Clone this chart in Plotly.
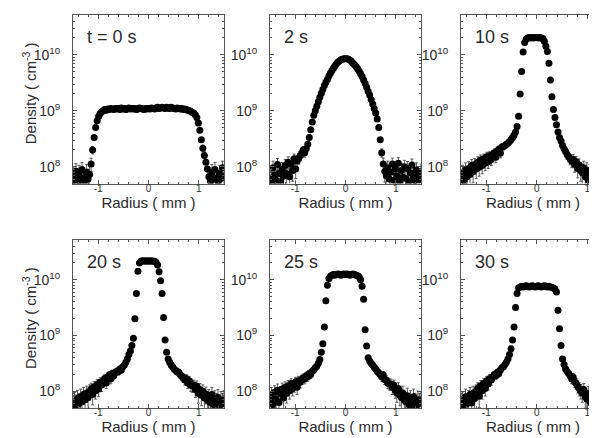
import plotly.graph_objects as go

# ---------------- data ----------------
radius_mm = [
    -1.50, -1.47, -1.44, -1.41, -1.38, -1.35, -1.32, -1.29, -1.26, -1.23,
    -1.20, -1.17, -1.14, -1.11, -1.08, -1.05, -1.02, -0.99, -0.96, -0.93,
    -0.90, -0.87, -0.84, -0.81, -0.78, -0.75, -0.72, -0.69, -0.66, -0.63,
    -0.60, -0.57, -0.54, -0.51, -0.48, -0.45, -0.42, -0.39, -0.36, -0.33,
    -0.30, -0.27, -0.24, -0.21, -0.18, -0.15, -0.12, -0.09, -0.06, -0.03,
    0.00, 0.03, 0.06, 0.09, 0.12, 0.15, 0.18, 0.21, 0.24, 0.27,
    0.30, 0.33, 0.36, 0.39, 0.42, 0.45, 0.48, 0.51, 0.54, 0.57,
    0.60, 0.63, 0.66, 0.69, 0.72, 0.75, 0.78, 0.81, 0.84, 0.87,
    0.90, 0.93, 0.96, 0.99, 1.02, 1.05, 1.08, 1.11, 1.14, 1.17,
    1.20, 1.23, 1.26, 1.29, 1.32, 1.35, 1.38, 1.41, 1.44, 1.47, 1.50,
]

# log10 of density (cm^-3)
log10_density_0s = [
    7.82, 7.74, 7.92, 7.79, 7.88, 7.73, 7.95, 7.80, 7.76, 7.90,
    7.78, 7.86, 8.05, 8.30, 8.52, 8.70, 8.82, 8.90, 8.95, 8.98,
    9.00, 9.02, 9.01, 9.03, 9.02, 9.04, 9.03, 9.02, 9.04, 9.03,
    9.04, 9.02, 9.05, 9.03, 9.04, 9.02, 9.03, 9.05, 9.03, 9.04,
    9.03, 9.04, 9.02, 9.03, 9.05, 9.04, 9.03, 9.02, 9.04, 9.03,
    9.04, 9.03, 9.05, 9.04, 9.03, 9.05, 9.06, 9.04, 9.05, 9.06,
    9.05, 9.04, 9.06, 9.05, 9.04, 9.06, 9.05, 9.04, 9.03, 9.05,
    9.04, 9.03, 9.04, 9.02, 9.03, 9.02, 9.01, 9.00, 8.99, 8.97,
    8.96, 8.93, 8.88, 8.78, 8.65, 8.48, 8.33, 8.20, 8.08, 7.96,
    7.82, 7.74, 7.90, 7.78, 7.95, 7.80, 7.73, 7.88, 7.79, 7.98, 7.83,
]
log10_density_2s = [
    7.80, 7.72, 7.98, 7.85, 7.76, 8.04, 7.88, 7.73, 7.95, 7.83,
    8.02, 7.88, 8.08, 7.82, 8.05, 7.93, 8.14, 7.96, 8.10, 8.15,
    8.20, 8.24, 8.30, 8.25, 8.32, 8.40, 8.52, 8.66, 8.80, 8.92,
    9.00, 9.08, 9.16, 9.24, 9.31, 9.38, 9.45, 9.51, 9.56, 9.62,
    9.67, 9.72, 9.76, 9.80, 9.84, 9.87, 9.89, 9.91, 9.92, 9.93,
    9.93, 9.93, 9.92, 9.90, 9.88, 9.85, 9.82, 9.79, 9.75, 9.71,
    9.66, 9.61, 9.55, 9.49, 9.42, 9.35, 9.28, 9.20, 9.12, 9.04,
    8.96, 8.85, 8.70, 8.48, 8.25, 8.05, 7.92, 7.84, 7.98, 7.78,
    7.90, 8.05, 7.76, 7.96, 7.84, 8.06, 7.74, 7.93, 7.81, 8.00,
    7.79, 7.97, 7.73, 7.89, 8.03, 7.82, 7.75, 7.94, 7.85, 7.77, 7.91,
]
log10_density_10s = [
    7.78, 7.88, 7.74, 7.94, 7.82, 7.97, 7.86, 8.02, 7.91, 8.04,
    7.96, 8.08, 7.99, 8.12, 8.02, 8.14, 8.06, 8.18, 8.09, 8.20,
    8.13, 8.22, 8.25, 8.17, 8.28, 8.31, 8.24, 8.35, 8.36, 8.38,
    8.40, 8.42, 8.45, 8.48, 8.52, 8.56, 8.62, 8.72, 8.90, 9.30,
    9.70, 10.05, 10.22, 10.28, 10.30, 10.31, 10.30, 10.31, 10.30, 10.31,
    10.31, 10.30, 10.31, 10.30, 10.29, 10.24, 10.15, 10.06, 9.85, 9.55,
    9.25, 9.02, 8.88, 8.75, 8.62, 8.52, 8.46, 8.38, 8.32, 8.27,
    8.22, 8.18, 8.14, 8.10, 8.13, 8.04, 8.09, 7.97, 8.03, 7.93,
    7.89, 7.98, 7.82, 7.94, 7.76, 7.90, 7.80, 7.97, 7.74, 7.87,
    7.79, 7.92, 7.73, 7.85, 7.94, 7.77, 7.88, 7.74, 7.90, 7.79, 7.83,
]
log10_density_20s = [
    7.73, 7.81, 7.75, 7.87, 7.78, 7.90, 7.82, 7.94, 7.85, 7.97,
    7.89, 8.00, 8.04, 7.94, 8.08, 8.01, 8.12, 8.04, 8.16, 8.11,
    8.19, 8.23, 8.15, 8.26, 8.29, 8.22, 8.32, 8.28, 8.34, 8.36,
    8.35, 8.40, 8.38, 8.44, 8.47, 8.52, 8.58, 8.66, 8.72, 8.82,
    8.95, 9.30, 9.75, 10.15, 10.30, 10.33, 10.34, 10.33, 10.34, 10.33,
    10.34, 10.33, 10.34, 10.33, 10.33, 10.31, 10.26, 10.14, 9.98, 9.75,
    9.32, 8.92, 8.70, 8.58, 8.52, 8.47, 8.44, 8.40, 8.37, 8.35,
    8.34, 8.30, 8.27, 8.24, 8.20, 8.23, 8.15, 8.19, 8.11, 8.10,
    8.11, 8.03, 8.09, 7.96, 8.03, 7.93, 8.00, 7.88, 7.95, 7.84,
    7.89, 7.80, 7.94, 7.76, 7.86, 7.79, 7.89, 7.74, 7.84, 7.78, 7.86,
]
log10_density_25s = [
    7.84, 7.94, 7.76, 7.98, 7.86, 8.02, 7.80, 7.96, 8.04, 7.88,
    8.07, 7.96, 8.10, 8.01, 8.14, 8.05, 8.10, 8.17, 8.07, 8.19,
    8.16, 8.21, 8.24, 8.22, 8.28, 8.26, 8.32, 8.30, 8.36, 8.38,
    8.42, 8.45, 8.50, 8.57, 8.70, 8.85, 9.15, 9.62, 9.90, 10.02,
    10.06, 10.08, 10.09, 10.08, 10.09, 10.10, 10.09, 10.08, 10.09, 10.10,
    10.09, 10.10, 10.09, 10.08, 10.09, 10.10, 10.09, 10.08, 10.07, 10.05,
    10.00, 9.88, 9.65, 9.10, 8.81, 8.60, 8.54, 8.50, 8.47, 8.43,
    8.40, 8.36, 8.33, 8.30, 8.26, 8.29, 8.21, 8.20, 8.15, 8.13,
    8.13, 8.07, 8.11, 8.02, 7.97, 8.05, 7.93, 7.89, 7.97, 7.84,
    7.81, 7.92, 7.76, 7.86, 7.74, 7.90, 7.79, 7.75, 7.85, 7.78, 7.83,
]
log10_density_30s = [
    7.75, 7.83, 7.73, 7.90, 7.78, 7.86, 7.94, 7.79, 7.97, 7.87,
    8.00, 8.05, 7.91, 8.10, 8.01, 8.14, 8.05, 8.19, 8.13, 8.23,
    8.20, 8.26, 8.30, 8.28, 8.34, 8.32, 8.38, 8.42, 8.44, 8.48,
    8.52, 8.58, 8.66, 8.76, 8.92, 9.15, 9.50, 9.75, 9.85, 9.87,
    9.88, 9.87, 9.88, 9.89, 9.88, 9.87, 9.88, 9.89, 9.88, 9.87,
    9.88, 9.89, 9.88, 9.87, 9.88, 9.89, 9.88, 9.87, 9.88, 9.87,
    9.86, 9.85, 9.83, 9.78, 9.45, 9.12, 8.82, 8.58, 8.48, 8.40,
    8.36, 8.32, 8.28, 8.22, 8.25, 8.17, 8.14, 8.09, 8.05, 8.01,
    7.97, 8.03, 7.90, 7.86, 7.96, 7.82, 7.78, 7.87, 7.74, 7.82,
    7.77, 7.86, 7.73, 7.80, 7.90, 7.75, 7.84, 7.74, 7.81, 7.77, 7.87,
]

panel_labels = ["t = 0 s", "2 s", "10 s", "20 s", "25 s", "30 s"]
panel_series = [log10_density_0s, log10_density_2s, log10_density_10s,
                log10_density_20s, log10_density_25s, log10_density_30s]
density_error = 3e7  # cm^-3, measurement uncertainty

y_tick_values = [1e8, 1e9, 1e10]
y_tick_labels = ["10<sup>8</sup>", "10<sup>9</sup>", "10<sup>10</sup>"]
x_tick_values = [-1, 0, 1]
x_tick_labels = ["-1", "0", "1"]

x_title = "Radius ( mm )"
y_title = "Density ( cm<sup>-3</sup> )"

# ---------------- layout geometry ----------------
W, H = 597, 438
FONT = "Liberation Sans, Arial, sans-serif"
TXT = "#2a2a2a"
LINE = "#555555"

col_px = [(65, 216), (262, 413), (453, 597)]
row_px = [(7, 175.5), (232, 400)]

fig = go.Figure()
layout = dict(
    width=W, height=H,
    margin=dict(l=0, r=0, t=0, b=0),
    paper_bgcolor="white", plot_bgcolor="white",
    showlegend=False,
    font=dict(family=FONT, color=TXT),
)
annotations = []

for k in range(6):
    r, c = divmod(k, 3)
    n = k + 1
    xa = "x" if n == 1 else f"x{n}"
    ya = "y" if n == 1 else f"y{n}"
    dens = [10 ** v for v in panel_series[k]]
    fig.add_trace(go.Scatter(
        x=radius_mm, y=dens, xaxis=xa, yaxis=ya,
        mode="markers",
        marker=dict(color="black", size=7, symbol="circle"),
        error_y=dict(type="constant", value=density_error, color="#333333",
                     thickness=0.8, width=1.5),
    ))
    x0, x1 = col_px[c]
    y0, y1 = row_px[r]
    right_cut = (c == 2)
    xr = [-1.5, 1.35] if right_cut else [-1.5, 1.5]
    layout["xaxis" if n == 1 else f"xaxis{n}"] = dict(
        domain=[x0 / W, x1 / W], anchor=ya, range=xr,
        showline=True, linecolor=LINE, linewidth=1, mirror="allticks",
        ticks="inside", ticklen=4, tickcolor=LINE, tickwidth=1,
        tickmode="array", tickvals=x_tick_values, ticktext=x_tick_labels,
        tickfont=dict(size=10, color=TXT, family=FONT),
        ticklabelstandoff=-5,
        minor=dict(ticks="inside", ticklen=2, tickcolor=LINE, dtick=0.2, tick0=0),
        showgrid=False, zeroline=False,
        title=dict(text=x_title, font=dict(size=15, color=TXT, family=FONT), standoff=3),
    )
    layout["yaxis" if n == 1 else f"yaxis{n}"] = dict(
        domain=[1 - y1 / H, 1 - y0 / H], anchor=xa, type="log",
        range=[7.7, 10.71],
        showline=True, linecolor=LINE, linewidth=1,
        mirror=False if right_cut else "allticks",
        ticks="inside", ticklen=4, tickcolor=LINE, tickwidth=1,
        tickmode="array", tickvals=y_tick_values, ticktext=y_tick_labels,
        tickfont=dict(size=14, color=TXT, family=FONT),
        ticklabelstandoff=9,
        minor=dict(ticks="inside", ticklen=2, tickcolor=LINE, dtick="D1"),
        showgrid=False, zeroline=False,
    )
    annotations.append(dict(
        text=panel_labels[k], xref="paper", yref="paper",
        x=(x0 + 12) / W, y=1 - (y0 + 22) / H,
        xanchor="left", yanchor="middle", showarrow=False,
        font=dict(size=18, color=TXT, family=FONT),
    ))
    if c == 0:
        annotations.append(dict(
            text=y_title, xref="paper", yref="paper",
            x=21 / W, y=1 - ((y0 + y1) / 2 - 6) / H,
            xanchor="center", yanchor="middle", textangle=-90, showarrow=False,
            font=dict(size=15, color=TXT, family=FONT),
        ))

layout["annotations"] = annotations
fig.update_layout(**layout)
fig.write_html("out.html")
